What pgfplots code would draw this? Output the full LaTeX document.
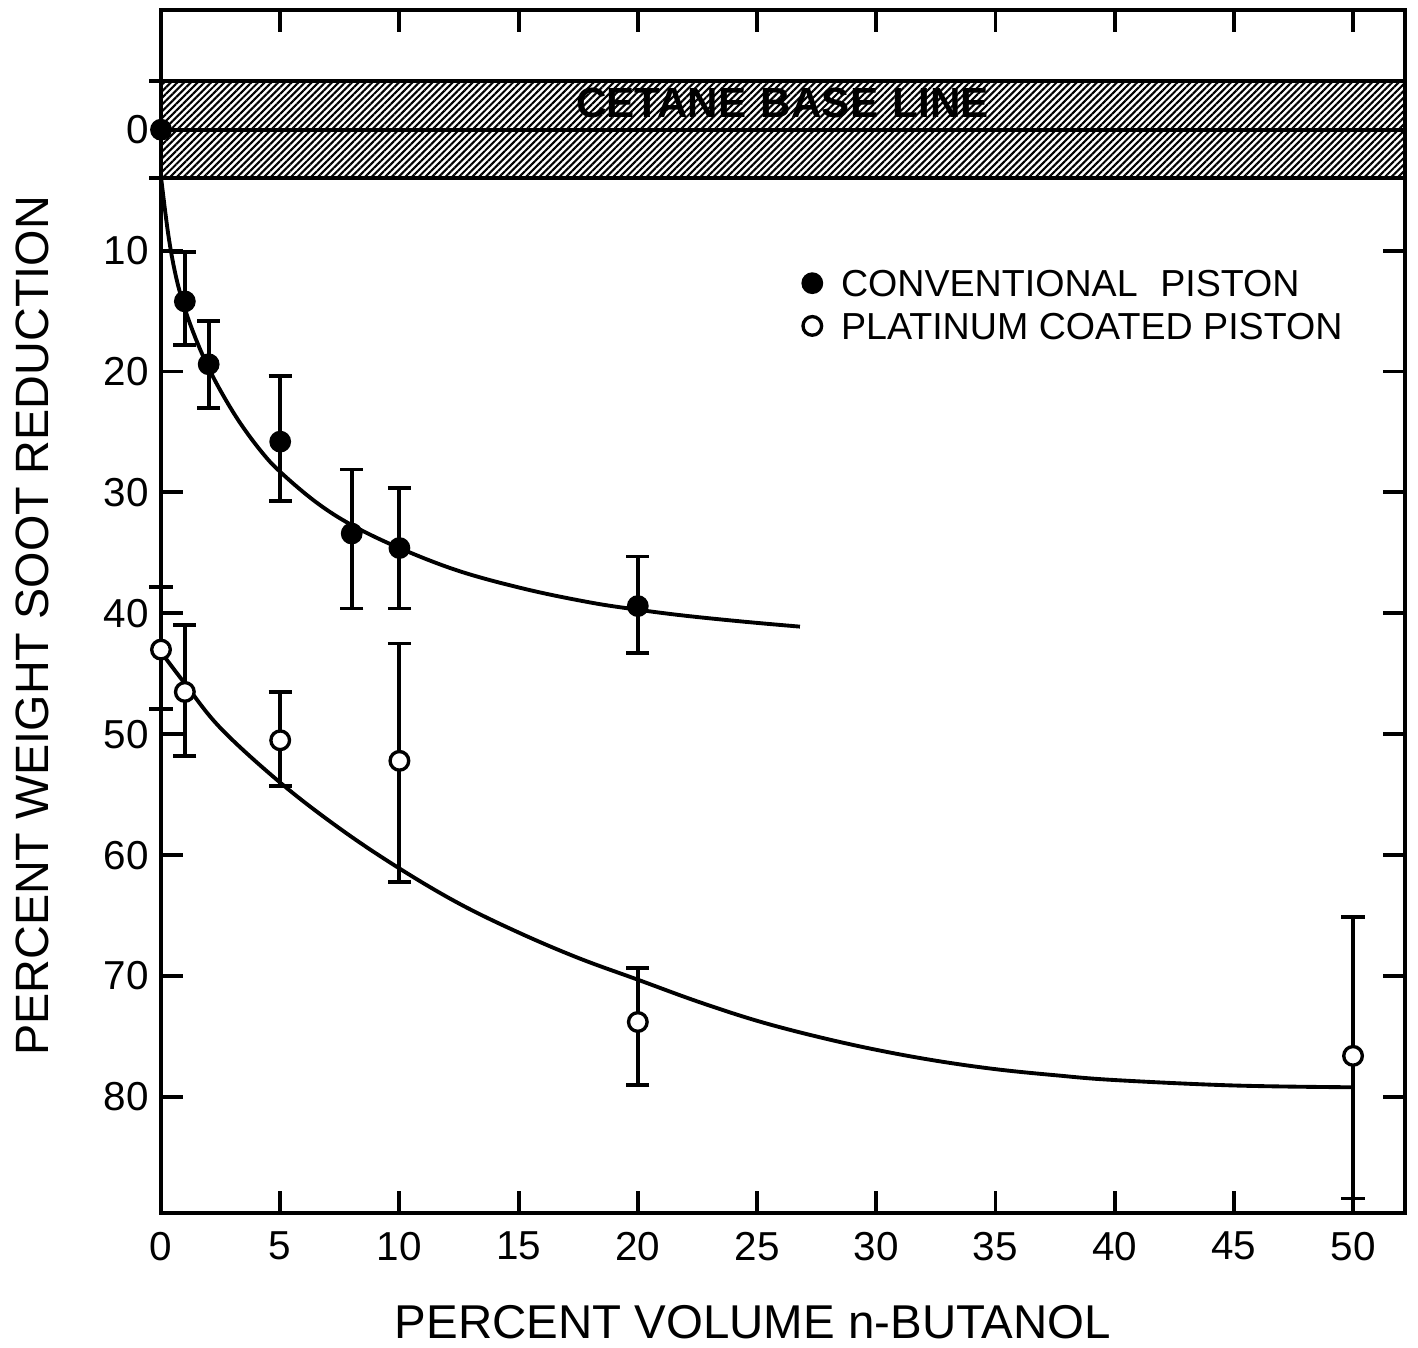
\documentclass[border=0pt]{standalone}
\usepackage{pgfplots}
\pgfplotsset{compat=1.18}
\usepackage{fontspec}
\setmainfont{Liberation Sans}
\usetikzlibrary{patterns.meta}
\begin{document}
\begin{tikzpicture}
\begin{axis}[
  scale only axis, width=12.44cm, height=12.03cm,
  xmin=0, xmax=52.18, ymin=-9.9, ymax=89.6, y dir=reverse,
  xtick={0,5,...,50}, ytick={0,10,...,80},
  tick align=inside, major tick length=0.22cm,
  axis line style={line width=1.2pt},
  tick style={line width=1.1pt, black},
  every tick label/.append style={font=\fontsize{11.5}{13}\selectfont},
  xticklabel style={yshift=-0.065cm},
  /pgf/number format/assume math mode=true,
  clip=false,
  legend style={draw=none, fill=none, at={(axis cs:26.87,11.58)}, anchor=north west,
    inner sep=0pt, outer sep=0pt, /tikz/row sep=4.5pt, /tikz/column sep=0.1cm,
    font=\fontsize{10.7}{12}\selectfont,
    nodes={inner sep=0pt, outer sep=0pt, text depth=0pt, text height=7.66pt}},
  legend cell align=left,
  legend image code/.code={\draw[#1,/tikz/only marks] plot coordinates {(0cm,0cm)}; \path (-0.1cm,-0.1cm) (0.18cm,0.1cm);},
]
% cetane base line band
\addplot[forget plot, draw=black, line width=1.1pt,
  pattern={Lines[angle=45, distance=1.35pt, line width=0.6pt]}, pattern color=black]
  coordinates {(0,-4) (52.18,-4) (52.18,4) (0,4)} -- cycle;
\addplot[forget plot, line width=1.2pt] coordinates {(0,0) (52.18,0)};
\node[font=\fontsize{12}{14}\selectfont\bfseries, inner sep=1pt] at (axis cs:26.07,-2.25)
  {CETANE\hspace{0.35em}BASE\hspace{0.35em}LINE};

% fitted curves
\addplot[forget plot, smooth, tension=0.6, line width=1.1pt] coordinates {
(0,3.9) (0.3,8.6) (0.6,11.9) (0.95,14.5) (1.4,17.0) (1.9,19.3) (2.5,21.6) (3.3,24.2)
(4.2,26.6) (5,28.3) (6.5,30.8) (8,32.7) (10,34.6) (12.5,36.5) (15.3,38.0) (18,39.1)
(20,39.7) (22,40.2) (24.5,40.7) (26.8,41.1)};
\addplot[forget plot, smooth, tension=0.6, line width=1.1pt] coordinates {
(0,43.2) (1,45.8) (2.5,49.5) (5,54.0) (7.5,57.8) (10,61.1) (12.5,64.0) (15,66.4)
(17.5,68.5) (20,70.3) (22.5,72.1) (25,73.7) (27.5,75.0) (30,76.1) (32.5,77.0) (35,77.7)
(37.5,78.2) (40,78.6) (45,79.05) (50,79.2)};

% conventional piston
\addplot[forget plot, only marks, mark=*, mark size=2.9pt,
  mark options={fill=black, draw=black, line width=0.4pt},
  error bars/.cd, y dir=both, y explicit, error mark=|,
  error bar style={line width=1.1pt, black},
  error mark options={line width=1.1pt, mark size=3.3pt, black}]
  table[x=x, y=y, y error plus=ep, y error minus=em] {
x y ep em
0 0 4 4
1 14.2 3.6 4.1
2 19.4 3.6 3.6
5 25.8 4.9 5.4
8 33.4 6.2 5.3
10 34.6 5.0 5.0
20 39.4 3.9 4.1
};
% platinum coated piston
\addplot[forget plot, only marks, mark=*, mark size=2.65pt,
  mark options={fill=white, draw=black, line width=0.95pt},
  error bars/.cd, y dir=both, y explicit, error mark=|,
  error bar style={line width=1.1pt, black},
  error mark options={line width=1.1pt, mark size=3.3pt, black}]
  table[x=x, y=y, y error plus=ep, y error minus=em] {
x y ep em
0 43.0 4.9 5.2
1 46.5 5.3 5.5
5 50.5 3.8 4.0
10 52.2 10.0 9.7
20 73.8 5.2 4.5
50 76.6 11.8 11.5
};

\addlegendimage{only marks, mark=*, mark size=2.9pt, mark options={fill=black, draw=black, line width=0.4pt}}
\addlegendentry{CONVENTIONAL\hspace{0.6em}PISTON}
\addlegendimage{only marks, mark=*, mark size=2.65pt, mark options={fill=white, draw=black, line width=0.95pt}}
\addlegendentry{PLATINUM COATED PISTON}
\end{axis}
\node[rotate=90, font=\fontsize{13.3}{15}\selectfont, inner sep=0pt]
  at ([xshift=-1.29cm,yshift=-0.145cm]current axis.west) {PERCENT WEIGHT SOOT REDUCTION};
\node[font=\fontsize{13.5}{16}\selectfont, inner sep=0pt]
  at ([xshift=-0.30cm,yshift=-1.095cm]current axis.south) {PERCENT VOLUME n-BUTANOL};
\path (current axis.south west) ++(-1.61cm,-1.34cm) rectangle ++(14.18cm,13.47cm);
\end{tikzpicture}
\end{document}
